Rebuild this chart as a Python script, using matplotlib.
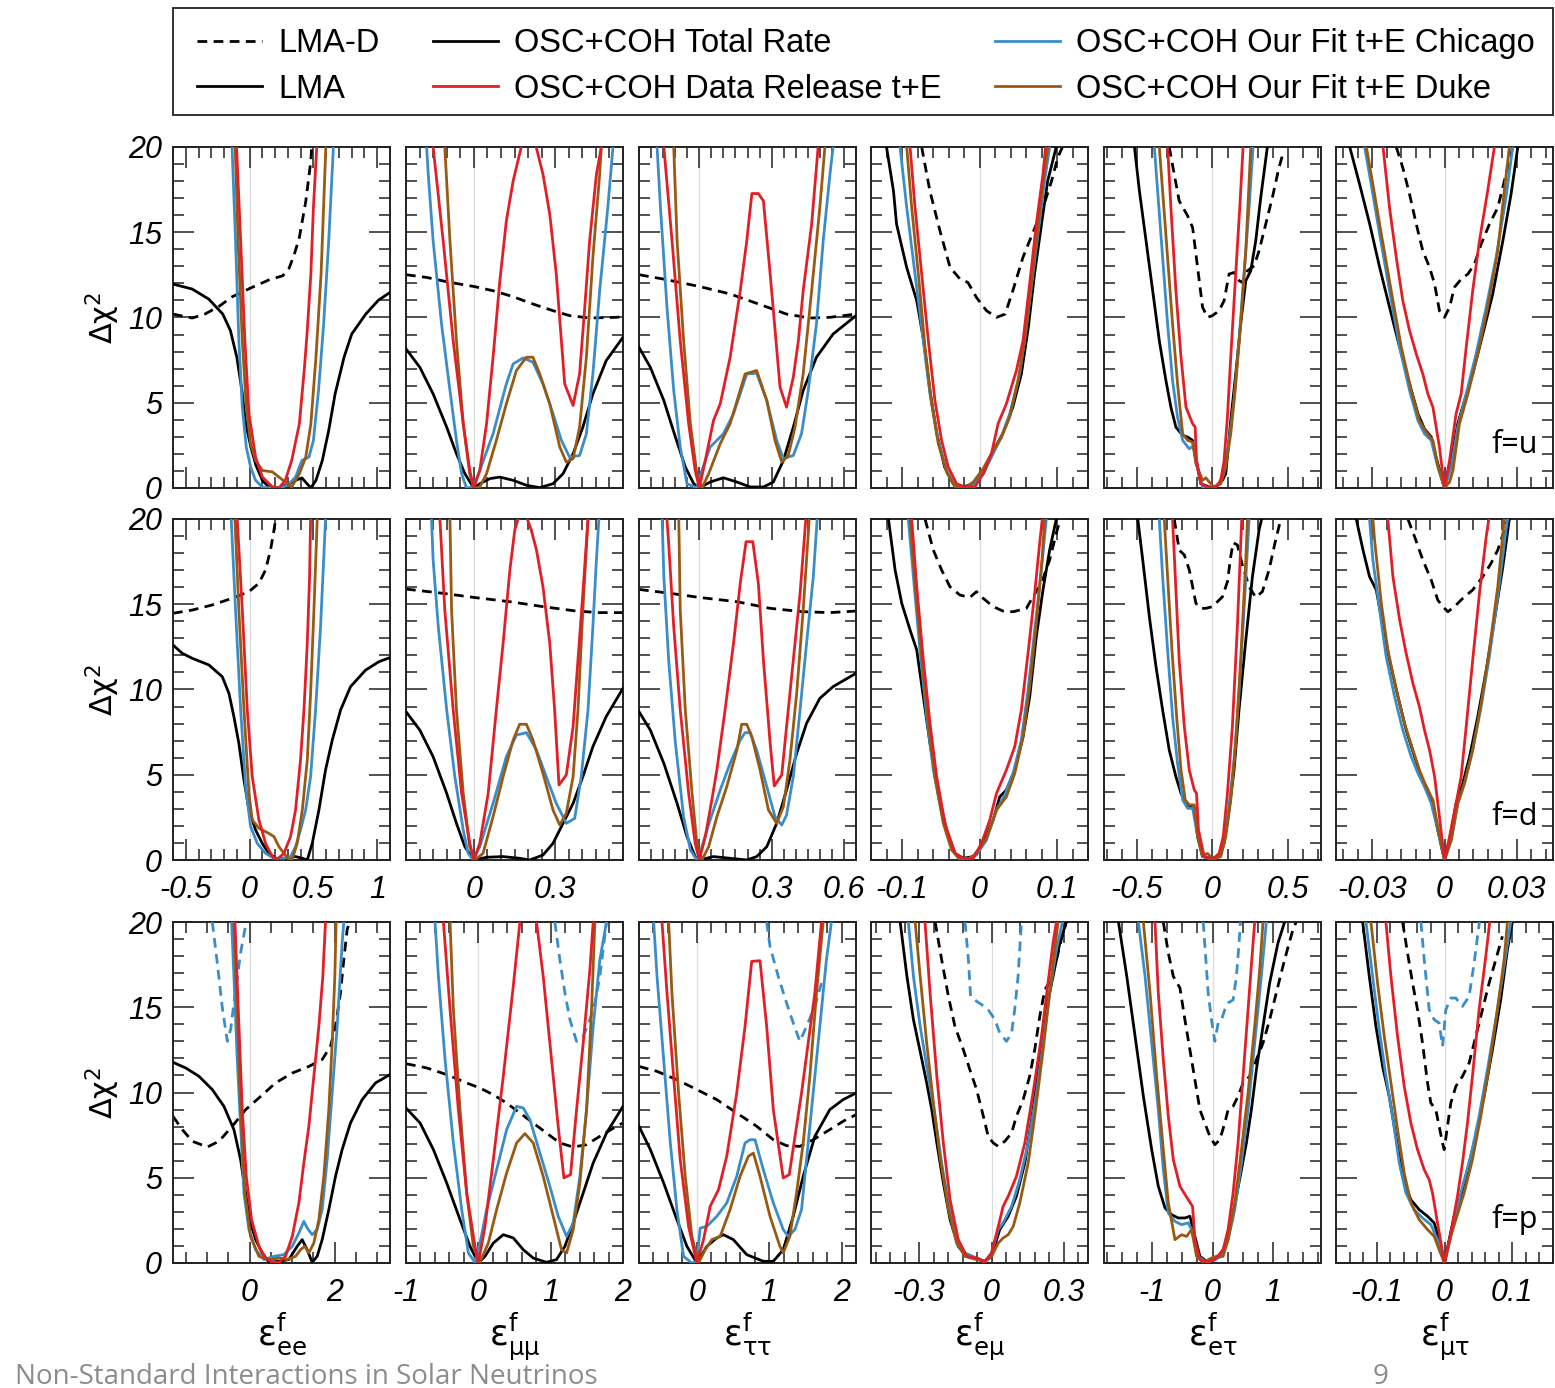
import matplotlib
matplotlib.use("Agg")
import matplotlib.pyplot as plt
from matplotlib.lines import Line2D
from matplotlib.patches import Rectangle
from matplotlib.ticker import MultipleLocator, FuncFormatter

# ---------------- data: (x, delta chi^2) ----------------
# row f=u
u_ee_lmad = ([-0.6, -0.45, -0.35, -0.24, -0.14, 0.02, 0.15, 0.26, 0.31, 0.35, 0.39, 0.44, 0.48, 0.49],
             [10.2, 9.97, 10.2, 10.65, 11.2, 11.77, 12.2, 12.45, 12.9, 13.7, 14.7, 16.8, 19.2, 20.5])
u_ee_lma = ([-0.6, -0.45, -0.32, -0.21, -0.15, -0.1, -0.06, -0.03, 0.01, 0.05, 0.1, 0.15, 0.23, 0.31, 0.36, 0.41, 0.45,
             0.48, 0.52, 0.57, 0.62, 0.67, 0.74, 0.8, 0.91, 1.01, 1.1],
            [11.96, 11.67, 11.08, 10.2, 9.23, 7.67, 5.72, 3.77, 2.4, 1.33, 0.45, 0.06, 0.02, 0.25, 0.45, 0.59, 0.25,
             0.0, 0.45, 1.62, 3.38, 5.52, 7.67, 9.03, 10.2, 11.02, 11.47])
u_ee_blue = ([-0.14, -0.11, -0.084, -0.057, -0.026, 0.008, 0.047, 0.1, 0.18, 0.26, 0.31, 0.36, 0.41, 0.465, 0.5, 0.54, 0.58, 0.62, 0.66],
             [20.5, 14.5, 8.64, 4.74, 2.4, 1.23, 0.45, 0.05, 0, 0.05, 0.25, 0.64, 1.62, 1.81, 2.79, 5.72, 9.6, 14.5, 20.5])
u_ee_red = ([-0.105, -0.07, -0.037, -0.005, 0.047, 0.1, 0.18, 0.23, 0.28, 0.33, 0.39, 0.43, 0.45, 0.48, 0.5, 0.53],
            [20.5, 14.5, 8.64, 4.35, 1.81, 0.64, 0.06, 0, 0.45, 1.62, 3.77, 7.08, 9.03, 12.55, 16.45, 20.5])
u_ee_brown = ([-0.115, -0.09, -0.057, -0.026, 0.008, 0.047, 0.1, 0.18, 0.23, 0.28, 0.33, 0.39, 0.44, 0.48, 0.52, 0.56, 0.6],
              [20.5, 14.5, 8.64, 4.74, 2.6, 1.62, 1.03, 0.94, 0.64, 0.35, 0.06, 0.84, 1.81, 3.77, 7.67, 12.55, 20.5])

u_mm_lmad = ([-0.25, -0.174, -0.088, 0, 0.071, 0.145, 0.218, 0.292, 0.353, 0.427, 0.525, 0.55],
             [12.51, 12.35, 12.06, 11.82, 11.57, 11.22, 10.79, 10.4, 10.11, 9.97, 10.01, 10.05])
u_mm_lma = ([-0.25, -0.199, -0.15, -0.1, -0.064, -0.033, 0, 0.022, 0.059, 0.096, 0.145, 0.194, 0.243, 0.292, 0.329, 0.366, 0.402, 0.439, 0.488, 0.55],
            [8.16, 7.08, 5.52, 3.57, 2.01, 0.84, 0, 0.25, 0.55, 0.64, 0.45, 0.16, 0.02, 0.25, 0.84, 2.01, 3.57, 5.52, 7.47, 8.84])
u_mm_blue = ([-0.174, -0.168, -0.15, -0.119, -0.088, -0.064, -0.045, -0.027, -0.002, 0.022, 0.071, 0.12, 0.145, 0.182, 0.218,
              0.255, 0.292, 0.323, 0.353, 0.39, 0.415, 0.439, 0.464, 0.494, 0.513],
             [20.0, 18.4, 14.5, 9.62, 5.72, 2.79, 0.84, 0, 0.06, 1.03, 3.18, 6.11, 7.28, 7.63, 7.38,
              6.11, 4.35, 2.79, 1.81, 1.91, 3.18, 6.69, 11.57, 16.45, 20.0])
u_mm_red = ([-0.15, -0.113, -0.076, -0.039, -0.015, 0, 0.022, 0.047, 0.071, 0.096, 0.12, 0.145, 0.175, 0.2, 0.23, 0.255,
             0.28, 0.304, 0.335, 0.366, 0.39, 0.409, 0.427, 0.452, 0.47],
            [20.0, 14.5, 8.64, 3.77, 1.03, 0, 1.03, 3.77, 7.67, 12.16, 15.67, 18.01, 20.0, 21.5, 20.0, 18.4,
             16.06, 12.55, 6.11, 4.84, 6.69, 10.6, 14.5, 18.4, 20.0])
u_mm_brown = ([-0.107, -0.088, -0.064, -0.039, -0.015, 0, 0.022, 0.047, 0.083, 0.12, 0.157, 0.194, 0.218, 0.243, 0.28, 0.317,
               0.341, 0.366, 0.39, 0.415, 0.439, 0.464, 0.47],
              [20.0, 14.5, 8.64, 3.77, 0.84, 0, 0.06, 0.84, 2.79, 4.94, 6.89, 7.67, 7.67, 6.69, 4.94, 2.4,
               1.52, 1.72, 3.57, 7.67, 13.52, 18.4, 20.0])

u_tt_lmad = ([-0.25, -0.147, 0, 0.128, 0.266, 0.362, 0.459, 0.542, 0.65],
             [12.51, 12.25, 11.82, 11.38, 10.69, 10.2, 9.97, 10.01, 10.2])
u_tt_lma = ([-0.25, -0.203, -0.147, -0.099, -0.058, -0.023, 0, 0.045, 0.1, 0.156, 0.211, 0.266, 0.307, 0.349, 0.39, 0.431, 0.486, 0.555, 0.65],
            [8.25, 7.08, 5.13, 2.99, 1.23, 0.25, 0, 0.35, 0.6, 0.35, 0.06, 0.06, 0.35, 1.62, 3.57, 5.72, 7.67, 9.03, 10.11])
u_tt_blue = ([-0.175, -0.161, -0.134, -0.106, -0.079, -0.051, -0.01, 0.011, 0.045, 0.1, 0.142, 0.197, 0.238, 0.28, 0.321,
              0.349, 0.39, 0.424, 0.452, 0.486, 0.514, 0.542, 0.555],
             [20.0, 16.45, 10.6, 5.72, 2.4, 0.25, 0, 1.03, 2.4, 3.18, 4.35, 6.69, 6.73, 5.13, 2.79,
              1.72, 1.91, 3.18, 5.72, 9.62, 14.5, 18.4, 20.0])
u_tt_red = ([-0.147, -0.113, -0.079, -0.044, -0.017, 0, 0.025, 0.059, 0.087, 0.128, 0.17, 0.197, 0.218, 0.245, 0.266, 0.294,
             0.335, 0.362, 0.39, 0.411, 0.431, 0.466, 0.493],
            [20.0, 14.5, 8.64, 3.77, 1.03, 0, 1.62, 3.96, 4.94, 7.67, 11.57, 14.5, 17.27, 17.27, 16.84, 12.55,
             5.91, 4.74, 6.5, 8.64, 11.57, 15.47, 20.0])
u_tt_brown = ([-0.106, -0.092, -0.065, -0.037, -0.01, 0.011, 0.039, 0.087, 0.128, 0.19, 0.238, 0.28, 0.314, 0.342, 0.369,
               0.397, 0.431, 0.466, 0.5, 0.521],
              [20.0, 14.5, 8.64, 3.77, 0.84, 0, 0.84, 2.6, 3.77, 6.69, 6.89, 5.13, 2.79, 1.52, 1.91,
               3.57, 6.69, 11.57, 16.45, 20.0])

u_em_lmad = ([-0.0746, -0.064, -0.051, -0.038, -0.025, -0.015, -0.004, 0.009, 0.022, 0.033, 0.043, 0.056, 0.069, 0.082, 0.093, 0.101, 0.107],
             [20.0, 17.42, 15.08, 12.94, 12.25, 12.06, 11.18, 10.4, 10.01, 10.2, 11.57, 13.52, 14.99, 16.45, 18.01, 19.38, 20.0])
u_em_lma = ([-0.12, -0.111, -0.107, -0.094, -0.081, -0.072, -0.064, -0.055, -0.045, -0.034, -0.021, -0.008, 0.005, 0.018,
             0.03, 0.043, 0.054, 0.063, 0.071, 0.08, 0.088, 0.099],
            [20.0, 17.42, 15.47, 12.94, 10.99, 8.64, 5.72, 3.18, 1.23, 0.25, 0.06, 0.25, 0.84, 2.2,
             3.18, 4.74, 6.69, 9.42, 12.55, 15.47, 18.01, 20.0])
u_em_blue = ([-0.1025, -0.0939, -0.0832, -0.0725, -0.0639, -0.0532, -0.0425, -0.0317, -0.021, -0.0081, 0.0047, 0.0176,
              0.0283, 0.039, 0.0519, 0.0605, 0.069, 0.0776, 0.084, 0.0905],
             [20.0, 16.45, 12.55, 8.64, 5.52, 2.79, 1.03, 0.16, 0, 0.16, 0.84, 2.01,
              2.99, 4.35, 6.69, 9.42, 12.55, 15.67, 18.01, 20.0])
u_em_red = ([-0.0896, -0.0832, -0.0746, -0.066, -0.0575, -0.0489, -0.0403, -0.0296, -0.0189, -0.006, 0.0047, 0.0154,
             0.024, 0.0347, 0.0476, 0.0562, 0.0647, 0.0733, 0.0819, 0.0853],
            [20.0, 16.45, 12.55, 8.64, 5.13, 2.79, 1.23, 0.25, 0.06, 0.06, 0.84, 2.01,
             3.77, 4.94, 6.89, 8.64, 11.96, 15.47, 18.4, 20.0])
u_em_brown = ([-0.0939, -0.0875, -0.0789, -0.0703, -0.0617, -0.0532, -0.0425, -0.0317, -0.0189, -0.0081, 0.0047, 0.0176,
               0.0283, 0.039, 0.0497, 0.0583, 0.0669, 0.0755, 0.0819, 0.0883],
              [20.0, 16.45, 12.55, 8.25, 4.94, 2.6, 0.94, 0.06, 0, 0.35, 1.13, 2.2,
               2.99, 4.16, 6.3, 8.64, 11.96, 15.28, 18.01, 20.0])

u_et_lmad = ([-0.287, -0.254, -0.221, -0.165, -0.132, -0.099, -0.066, -0.033, 0, 0.044, 0.077, 0.11, 0.143, 0.176, 0.198,
              0.232, 0.276, 0.309, 0.353, 0.397, 0.441, 0.463],
             [20.0, 18.4, 16.84, 15.96, 15.28, 12.94, 10.6, 10.01, 10.11, 10.4, 10.99, 12.55, 12.64, 12.16, 12.06,
              12.74, 13.03, 13.91, 15.47, 17.03, 18.79, 19.47])
u_et_lma = ([-0.518, -0.485, -0.441, -0.397, -0.353, -0.309, -0.276, -0.243, -0.198, -0.165, -0.132, -0.11, -0.077, -0.022,
             0.022, 0.066, 0.088, 0.121, 0.154, 0.187, 0.221, 0.254, 0.287, 0.32, 0.364],
            [20.0, 17.42, 14.5, 11.57, 8.64, 6.3, 4.74, 3.57, 3.08, 2.99, 2.79, 1.62, 0.25, 0.06,
             0.06, 0.45, 0.84, 3.96, 6.69, 9.62, 12.16, 12.74, 14.5, 17.03, 20.0])
u_et_blue = ([-0.386, -0.364, -0.331, -0.298, -0.265, -0.232, -0.198, -0.154, -0.121, -0.099, -0.066, 0, 0.044, 0.077,
              0.11, 0.143, 0.176, 0.209, 0.243, 0.269],
             [20.0, 17.42, 13.52, 9.62, 6.3, 4.16, 2.79, 2.3, 2.5, 1.23, 0.06, 0, 0.25, 1.03,
              2.79, 5.13, 8.64, 12.55, 16.45, 20.0])
u_et_red = ([-0.298, -0.276, -0.243, -0.209, -0.176, -0.132, -0.115, -0.106, -0.077, -0.022, 0.022, 0.055, 0.077, 0.099,
             0.121, 0.154, 0.181, 0.203],
            [20.0, 16.45, 11.57, 7.67, 4.74, 3.77, 3.57, 1.62, 0.25, 0, 0.06, 0.45, 1.62, 4.16,
             7.67, 12.55, 16.45, 20.0])
u_et_brown = ([-0.353, -0.331, -0.298, -0.265, -0.232, -0.198, -0.165, -0.132, -0.11, -0.066, -0.044, -0.022, 0.011, 0.055,
               0.088, 0.121, 0.154, 0.187, 0.221, 0.254],
              [20.0, 17.42, 13.52, 9.62, 6.11, 3.18, 2.79, 2.69, 1.42, 0.45, 0.6, 0.35, 0.06, 0.25,
               1.23, 3.18, 6.11, 9.62, 13.91, 20.0])

u_mt_lmad = ([-0.02, -0.0173, -0.0145, -0.0117, -0.009, -0.0062, -0.0041, -0.0021, 0, 0.0021, 0.0041, 0.0069, 0.0097,
              0.0124, 0.0152, 0.0186, 0.0221, 0.0283],
             [20.0, 18.79, 17.23, 15.47, 13.91, 12.94, 11.96, 10.4, 10.01, 10.6, 11.77, 12.25, 12.55,
              13.13, 14.3, 15.47, 16.45, 20.0])
u_mt_lma = ([-0.0393, -0.0352, -0.031, -0.0269, -0.0228, -0.0186, -0.0145, -0.011, -0.0083, -0.0055, -0.0035, 0, 0.0028,
             0.0055, 0.0083, 0.0117, 0.0159, 0.02, 0.0242, 0.0276, 0.0304],
            [20.0, 17.81, 15.47, 12.94, 10.6, 8.25, 6.11, 4.35, 3.47, 2.99, 1.81, 0, 1.62,
             3.77, 5.13, 6.69, 9.03, 11.38, 14.5, 17.23, 20.0])
u_mt_blue = ([-0.0331, -0.0304, -0.0269, -0.0228, -0.0186, -0.0145, -0.011, -0.0083, -0.0055, -0.0028, 0, 0.0028, 0.0055,
              0.009, 0.0131, 0.0173, 0.0214, 0.0255, 0.0283],
             [20.0, 17.81, 14.89, 11.57, 8.25, 5.72, 3.96, 3.18, 2.79, 1.23, 0, 1.23, 3.57,
              5.52, 7.86, 10.6, 13.52, 17.03, 20.0])
u_mt_red = ([-0.0255, -0.0228, -0.02, -0.0173, -0.0145, -0.0117, -0.009, -0.0069, -0.0048, -0.0021, 0, 0.0021, 0.0048,
             0.0069, 0.009, 0.0117, 0.0145, 0.0179, 0.0207],
            [20.0, 16.45, 13.52, 10.99, 9.23, 7.86, 6.69, 5.52, 4.74, 2.4, 0, 1.62, 4.35,
             5.52, 8.25, 11.57, 14.5, 17.42, 20.0])
u_mt_brown = ([-0.0324, -0.0297, -0.0262, -0.0221, -0.0179, -0.0138, -0.0104, -0.0076, -0.0048, -0.0028, 0, 0.0021, 0.0035,
               0.0062, 0.0097, 0.0138, 0.0179, 0.0221, 0.0248, 0.0269],
              [20.0, 17.81, 14.89, 11.57, 8.25, 5.72, 3.96, 3.28, 2.79, 1.33, 0, 0.35, 1.03,
               3.77, 5.52, 7.86, 10.6, 13.91, 17.42, 20.0])

# row f=d
d_ee_lmad = ([-0.6, -0.449, -0.292, -0.136, -0.005, 0.073, 0.125, 0.164, 0.191, 0.204],
             [14.47, 14.66, 14.96, 15.35, 15.74, 16.23, 17.01, 18.18, 19.35, 20.0])
d_ee_lma = ([-0.6, -0.527, -0.449, -0.319, -0.214, -0.162, -0.123, -0.084, -0.044, -0.005, 0.047, 0.099, 0.151, 0.204,
             0.282, 0.36, 0.413, 0.452, 0.491, 0.543, 0.595, 0.648, 0.713, 0.791, 0.909, 1.013, 1.1],
            [12.61, 12.12, 11.83, 11.44, 10.75, 9.78, 8.41, 6.84, 4.69, 2.93, 1.76, 0.98, 0.39, 0.1,
             0.1, 0.2, 0.1, 0, 0.98, 2.93, 5.28, 7.04, 8.8, 10.17, 11.14, 11.63, 11.87])
d_ee_blue = ([-0.144, -0.11, -0.07, -0.031, 0.008, 0.06, 0.125, 0.191, 0.269, 0.321, 0.36, 0.399, 0.439, 0.478, 0.517, 0.556, 0.595],
             [20.0, 14.66, 8.8, 4.3, 1.96, 0.98, 0.39, 0.1, 0.1, 0.2, 0.78, 1.76, 2.93, 4.89, 8.8, 13.69, 20.0])
d_ee_red = ([-0.097, -0.057, -0.018, 0.021, 0.073, 0.125, 0.178, 0.217, 0.269, 0.321, 0.36, 0.399, 0.426, 0.452, 0.47, 0.478],
            [20.0, 14.66, 8.8, 4.89, 2.35, 0.98, 0.2, 0.04, 0.39, 1.37, 2.93, 5.87, 8.8, 12.71, 16.62, 20.0])
d_ee_brown = ([-0.115, -0.084, -0.044, -0.005, 0.021, 0.073, 0.151, 0.191, 0.23, 0.269, 0.308, 0.334, 0.373, 0.413, 0.452,
               0.478, 0.504, 0.53],
              [20.0, 14.66, 8.8, 3.91, 2.35, 1.86, 1.56, 1.37, 0.78, 0.39, 0.04, 0.04, 0.98, 2.93, 5.87,
               9.78, 14.66, 20.0])

d_mm_lmad = ([-0.25, -0.113, 0, 0.133, 0.255, 0.378, 0.464, 0.55],
             [15.89, 15.64, 15.4, 15.15, 14.86, 14.6, 14.51, 14.51])
d_mm_lma = ([-0.25, -0.199, -0.15, -0.1, -0.064, -0.033, 0, 0.047, 0.108, 0.169, 0.206, 0.255, 0.292, 0.329, 0.366, 0.402, 0.439, 0.488, 0.55],
            [8.7, 7.62, 6.06, 3.91, 2.15, 0.78, 0, 0.16, 0.2, 0.1, 0, 0.29, 0.98, 2.15, 3.32, 4.89, 6.65, 8.41, 10.07])
d_mm_blue = ([-0.156, -0.15, -0.131, -0.1, -0.07, -0.039, -0.021, -0.002, 0.022, 0.071, 0.12, 0.157, 0.194, 0.231, 0.267,
              0.304, 0.341, 0.372, 0.396, 0.421, 0.439, 0.452, 0.461],
             [20.0, 17.6, 13.69, 8.8, 4.89, 1.76, 0.39, 0, 0.78, 3.32, 6.06, 7.33, 7.47, 6.45, 4.89,
              3.32, 2.15, 2.44, 4.89, 8.8, 13.69, 17.6, 20.0])
d_mm_red = ([-0.125, -0.107, -0.076, -0.045, -0.015, 0, 0.022, 0.053, 0.083, 0.108, 0.133, 0.151, 0.163, 0.188, 0.212,
             0.231, 0.255, 0.28, 0.298, 0.314, 0.341, 0.366, 0.384, 0.402, 0.421],
            [20.0, 14.66, 8.8, 3.91, 0.98, 0, 0.98, 3.91, 8.8, 12.71, 17.01, 19.35, 20.0, 20.4, 19.35,
             18.18, 16.03, 12.71, 8.8, 4.4, 4.99, 7.82, 11.73, 15.64, 20.0])
d_mm_brown = ([-0.088, -0.082, -0.064, -0.039, -0.015, 0.004, 0.034, 0.071, 0.108, 0.145, 0.169, 0.194, 0.218, 0.255, 0.292,
               0.317, 0.341, 0.366, 0.384, 0.402, 0.421],
              [20.0, 14.66, 8.8, 3.91, 0.78, 0, 0.39, 2.54, 4.89, 7.04, 7.96, 7.96, 7.04, 5.08, 2.93,
               2.05, 2.74, 4.89, 8.8, 14.66, 20.0])

d_tt_lmad = ([-0.25, -0.12, 0, 0.156, 0.294, 0.431, 0.542, 0.65],
             [15.87, 15.64, 15.4, 15.15, 14.76, 14.56, 14.51, 14.6])
d_tt_lma = ([-0.25, -0.203, -0.147, -0.092, -0.051, -0.017, 0, 0.059, 0.128, 0.197, 0.238, 0.28, 0.321, 0.362, 0.404, 0.445, 0.5, 0.555, 0.65],
            [8.7, 7.62, 5.67, 3.32, 1.37, 0.2, 0, 0.2, 0.1, 0, 0.2, 0.78, 2.15, 4.11, 6.26, 8.02, 9.48, 10.17, 10.95])
d_tt_blue = ([-0.154, -0.147, -0.127, -0.099, -0.065, -0.037, -0.01, 0.011, 0.045, 0.087, 0.128, 0.17, 0.19, 0.211, 0.238,
              0.28, 0.314, 0.342, 0.362, 0.39, 0.418, 0.445, 0.473, 0.489],
             [20.0, 16.62, 11.73, 6.84, 2.54, 0.59, 0, 0.78, 2.35, 4.11, 5.67, 7.04, 7.47, 7.47, 6.45,
              4.3, 2.54, 2.05, 2.64, 4.89, 8.8, 12.71, 16.62, 20.0])
d_tt_red = ([-0.134, -0.127, -0.106, -0.079, -0.044, -0.017, 0, 0.025, 0.052, 0.073, 0.107, 0.142, 0.17, 0.194, 0.222,
             0.245, 0.266, 0.294, 0.311, 0.342, 0.362, 0.39, 0.418, 0.442],
            [20.0, 18.57, 13.69, 8.8, 3.91, 0.98, 0, 1.37, 3.52, 5.28, 8.8, 12.71, 16.23, 18.67, 18.67,
             16.23, 11.73, 6.84, 4.34, 4.99, 7.82, 11.73, 15.64, 20.0])
d_tt_brown = ([-0.085, -0.079, -0.058, -0.03, -0.01, 0.011, 0.039, 0.073, 0.114, 0.156, 0.176, 0.197, 0.218, 0.252, 0.287,
               0.321, 0.349, 0.376, 0.404, 0.431, 0.456],
              [20.0, 14.66, 8.8, 3.91, 0.98, 0, 0.78, 2.54, 4.3, 6.45, 7.96, 7.96, 7.23, 5.28, 2.93,
               2.15, 3.13, 5.87, 9.78, 14.66, 20.0])

d_em_lmad = ([-0.0703, -0.0596, -0.0489, -0.0382, -0.0253, -0.0124, -0.0039, 0.0047, 0.0176, 0.0304, 0.0433, 0.0605,
              0.069, 0.0798, 0.0905, 0.0991, 0.1042],
             [20.0, 18.18, 17.01, 16.03, 15.54, 15.4, 15.74, 15.35, 14.86, 14.6, 14.56, 14.76,
              15.44, 16.23, 17.6, 19.16, 20.0])
d_em_lma = ([-0.1175, -0.1089, -0.1003, -0.0896, -0.081, -0.0725, -0.0639, -0.0532, -0.0425, -0.0317, -0.021, -0.0081,
             0.0047, 0.0176, 0.0262, 0.0347, 0.0455, 0.0562, 0.0648, 0.0733, 0.0819, 0.0905, 0.0991],
            [20.0, 17.01, 15.05, 13.49, 12.32, 9.58, 6.84, 3.91, 1.76, 0.39, 0.1, 0.2,
             0.98, 2.35, 3.71, 4.11, 5.28, 7.23, 9.58, 13.1, 15.84, 18.18, 20.0])
d_em_blue = ([-0.0918, -0.0853, -0.0768, -0.0682, -0.0596, -0.0489, -0.0382, -0.0274, -0.0167, -0.0039, 0.009, 0.0219,
              0.0326, 0.0433, 0.054, 0.0626, 0.0712, 0.0798, 0.0862],
             [20.0, 16.62, 12.32, 8.41, 5.28, 2.74, 0.98, 0.1, 0.04, 0.29, 1.17, 2.93,
              3.81, 5.08, 7.04, 9.97, 13.49, 17.01, 20.0])
d_em_red = ([-0.0875, -0.081, -0.0725, -0.0639, -0.0553, -0.0446, -0.0317, -0.021, -0.0081, 0.0026, 0.0133, 0.0219,
             0.0347, 0.0455, 0.054, 0.0626, 0.0712, 0.0776, 0.081],
            [20.0, 16.03, 11.73, 8.02, 4.89, 2.15, 0.39, 0.1, 0.1, 0.98, 2.35, 3.91,
             5.28, 6.65, 8.8, 12.12, 15.64, 18.57, 20.0])
d_em_brown = ([-0.0896, -0.0832, -0.0746, -0.066, -0.0575, -0.0467, -0.036, -0.0253, -0.0146, -0.0039, 0.009, 0.0219,
               0.0347, 0.0455, 0.0562, 0.0648, 0.0733, 0.081, 0.084],
              [20.0, 16.23, 11.93, 8.02, 4.89, 2.15, 0.59, 0.04, 0.04, 0.39, 1.27, 2.93,
               3.71, 5.08, 7.23, 10.17, 13.88, 17.79, 20.0])

d_et_lmad = ([-0.254, -0.221, -0.187, -0.154, -0.11, -0.077, -0.044, 0, 0.066, 0.099, 0.121, 0.137, 0.165, 0.198, 0.243,
              0.287, 0.331, 0.375, 0.419, 0.452],
             [20.0, 18.18, 17.89, 17.01, 15.05, 14.76, 14.76, 14.86, 15.44, 16.32, 17.79, 18.61, 18.48, 17.3, 16.03,
              15.4, 15.74, 17.01, 18.77, 19.94])
d_et_lma = ([-0.496, -0.463, -0.419, -0.375, -0.331, -0.287, -0.243, -0.209, -0.176, -0.143, -0.121, -0.099, -0.066, 0,
             0.044, 0.077, 0.11, 0.143, 0.176, 0.221, 0.265, 0.309, 0.326],
            [20.0, 17.6, 14.27, 11.34, 8.8, 6.45, 4.89, 3.91, 3.32, 3.13, 2.93, 1.37, 0.2, 0.1,
             0.2, 0.98, 2.93, 5.28, 8.8, 12.9, 16.62, 19.35, 20.0])
d_et_blue = ([-0.353, -0.331, -0.298, -0.265, -0.232, -0.198, -0.165, -0.132, -0.106, -0.066, 0, 0.044, 0.077, 0.11,
              0.143, 0.176, 0.209, 0.243],
             [20.0, 16.62, 12.32, 8.41, 5.67, 3.52, 3.03, 3.03, 1.76, 0.2, 0.04, 0.2, 1.17, 3.13,
              5.87, 9.78, 14.66, 20.0])
d_et_red = ([-0.265, -0.247, -0.221, -0.187, -0.154, -0.121, -0.106, -0.093, -0.055, 0, 0.044, 0.071, 0.099, 0.132,
             0.165, 0.194],
            [20.0, 16.62, 11.73, 7.82, 5.28, 4.11, 3.91, 1.76, 0.2, 0.04, 0.39, 1.37, 3.91, 7.82,
             13.69, 20.0])
d_et_brown = ([-0.32, -0.298, -0.269, -0.238, -0.209, -0.181, -0.154, -0.121, -0.099, -0.066, -0.033, 0, 0.055, 0.088,
               0.121, 0.154, 0.187, 0.221, 0.232],
              [20.0, 16.62, 12.32, 8.41, 5.28, 3.52, 3.23, 3.23, 1.37, 0.2, 0.39, 0.04, 0.2, 1.37,
               3.52, 6.84, 11.73, 17.6, 20.0])

d_mt_lmad = ([-0.0152, -0.0124, -0.009, -0.0055, -0.0028, -0.0007, 0.0014, 0.0041, 0.0076, 0.0117, 0.0159, 0.0193,
              0.0221, 0.0248, 0.0262],
             [20.0, 18.96, 17.6, 16.42, 15.25, 14.86, 14.56, 14.86, 15.35, 15.84, 16.62, 17.4,
              18.18, 19.35, 20.0])
d_mt_lma = ([-0.0366, -0.0338, -0.0311, -0.0283, -0.0255, -0.0228, -0.0193, -0.0159, -0.0124, -0.0097, -0.0069, -0.0048,
             -0.0028, 0, 0.0021, 0.0048, 0.0076, 0.0104, 0.0138, 0.0173, 0.0207, 0.0242, 0.0269],
            [20.0, 18.18, 16.62, 15.84, 13.69, 11.73, 9.58, 7.62, 6.06, 4.89, 4.11, 3.32,
             1.76, 0, 1.17, 3.32, 4.5, 6.06, 8.41, 11.14, 14.08, 17.2, 20.0])
d_mt_blue = ([-0.0311, -0.0297, -0.0269, -0.0242, -0.0207, -0.0173, -0.0138, -0.011, -0.0083, -0.0055, -0.0028, 0,
              0.0028, 0.0055, 0.0083, 0.0117, 0.0152, 0.0186, 0.0221, 0.0255, 0.0262],
             [20.0, 17.6, 14.66, 11.93, 9.58, 7.62, 6.06, 5.08, 4.3, 3.32, 1.76, 0,
              1.17, 3.32, 4.5, 6.45, 8.99, 11.93, 15.44, 19.35, 20.0])
d_mt_red = ([-0.0235, -0.0214, -0.0186, -0.0159, -0.0131, -0.0104, -0.0083, -0.0062, -0.0041, -0.0021, 0, 0.0021,
             0.0048, 0.0069, 0.009, 0.0117, 0.0145, 0.0173, 0.0184],
            [20.0, 16.62, 14.08, 12.12, 10.36, 8.99, 7.62, 6.45, 4.89, 2.54, 0, 1.37,
             3.32, 4.89, 7.82, 11.73, 15.64, 18.96, 20.0])
d_mt_brown = ([-0.0297, -0.029, -0.0262, -0.0235, -0.02, -0.0166, -0.0131, -0.0104, -0.0076, -0.0048, -0.0028, 0,
               0.0028, 0.0055, 0.0083, 0.0117, 0.0152, 0.0186, 0.0221, 0.0248],
              [20.0, 18.77, 15.05, 12.32, 9.97, 8.02, 6.45, 5.28, 4.3, 3.52, 1.96, 0,
               1.17, 3.32, 4.5, 6.45, 9.19, 12.32, 16.03, 20.0])

# row f=p
p_ee_lmad = ([-1.8, -1.58, -1.346, -0.994, -0.72, -0.407, -0.094, 0.219, 0.61, 1.002, 1.393, 1.706, 1.901, 2.019, 2.136,
              2.214, 2.293, 2.347],
             [8.6, 7.82, 7.14, 6.8, 7.14, 8.02, 8.99, 9.68, 10.56, 11.14, 11.53, 11.93, 12.71, 13.88, 15.84,
              17.79, 19.55, 20.0])
p_ee_lma = ([-1.8, -1.502, -1.189, -0.876, -0.603, -0.368, -0.211, -0.094, 0, 0.141, 0.297, 0.454, 0.689, 0.923, 1.119,
             1.236, 1.354, 1.471, 1.588, 1.706, 1.862, 2.019, 2.175, 2.371, 2.645, 2.958, 3.3],
            [11.77, 11.44, 10.95, 10.17, 9.19, 7.82, 6.06, 4.11, 2.54, 1.37, 0.59, 0.04, 0.1, 0.2, 0.98,
             1.37, 0.78, 0.04, 0.39, 1.37, 3.13, 5.08, 6.65, 8.21, 9.58, 10.56, 11.05])
p_ee_blue = ([-0.423, -0.368, -0.29, -0.211, -0.133, -0.016, 0.141, 0.336, 0.571, 0.806, 1.002, 1.158, 1.275, 1.354,
              1.471, 1.588, 1.706, 1.823, 1.941, 2.058, 2.175, 2.214],
             [20.0, 16.81, 11.93, 8.02, 4.11, 1.96, 0.78, 0.2, 0.39, 0.49, 0.98, 1.76, 2.44, 2.05,
              1.66, 1.96, 3.13, 6.06, 9.97, 13.88, 18.77, 20.0])
p_ee_blued = ([-0.876, -0.759, -0.642, -0.524, -0.446, -0.329, -0.211, -0.078],
              [20.0, 17.6, 15.0, 13.0, 13.7, 16.0, 18.2, 20.0])
p_ee_red = ([-0.344, -0.266, -0.172, -0.078, 0.047, 0.219, 0.376, 0.532, 0.689, 0.845, 1.002, 1.158, 1.275, 1.393, 1.51,
             1.628, 1.721, 1.784],
            [20.0, 14.86, 8.99, 5.08, 2.54, 0.98, 0.29, 0.04, 0.04, 0.39, 1.56, 3.52, 5.87, 8.02, 10.95,
             13.88, 16.81, 20.0])
p_ee_brown = ([-0.368, -0.29, -0.211, -0.11, 0.023, 0.219, 0.454, 0.689, 0.884, 1.08, 1.197, 1.299, 1.393, 1.51, 1.628,
               1.745, 1.862, 1.941, 2.003, 2.034],
              [20.0, 14.86, 8.99, 4.11, 1.56, 0.39, 0.2, 0.29, 0.2, 0.39, 0.78, 0.98, 0.59, 1.17, 2.54,
               5.08, 8.99, 12.9, 16.81, 20.0])

p_mm_lmad = ([-1.0, -0.713, -0.437, -0.161, 0.023, 0.207, 0.391, 0.575, 0.759, 0.943, 1.127, 1.312, 1.496, 1.68, 1.91, 2.0],
             [11.69, 11.44, 11.05, 10.56, 10.26, 9.87, 9.38, 8.8, 8.21, 7.62, 7.04, 6.8, 6.94, 7.43, 8.02, 8.21])
p_mm_lma = ([-1.0, -0.805, -0.621, -0.437, -0.253, -0.115, 0, 0.092, 0.207, 0.345, 0.483, 0.621, 0.759, 0.943, 1.081,
             1.197, 1.312, 1.45, 1.588, 1.772, 2.0],
            [9.09, 8.21, 6.65, 4.69, 2.54, 0.98, 0, 0.39, 1.17, 1.66, 1.47, 0.78, 0.29, 0.04, 0.2,
             0.98, 2.35, 4.11, 5.87, 7.62, 9.19])
p_mm_blue = ([-0.598, -0.552, -0.46, -0.345, -0.23, -0.138, -0.046, 0.023, 0.115, 0.253, 0.391, 0.529, 0.621, 0.713,
              0.851, 0.989, 1.104, 1.22, 1.312, 1.404, 1.496, 1.588, 1.68, 1.772],
             [20.0, 16.81, 11.93, 7.04, 3.13, 0.59, 0.04, 1.17, 3.13, 5.47, 7.82, 9.19, 9.09, 8.41,
              6.45, 4.5, 2.74, 1.56, 2.35, 5.08, 8.99, 13.88, 17.79, 20.0])
p_mm_blued = ([1.058, 1.127, 1.197, 1.266, 1.358, 1.45, 1.542, 1.611, 1.68, 1.726, 1.772],
              [20.0, 17.79, 15.84, 14.27, 13.0, 13.29, 14.27, 15.25, 16.81, 18.38, 20.0])
p_mm_red = ([-0.483, -0.391, -0.276, -0.161, -0.046, 0, 0.092, 0.207, 0.345, 0.483, 0.575, 0.69, 0.805, 0.897, 0.989,
             1.104, 1.183, 1.275, 1.358, 1.45, 1.542, 1.588],
            [20.0, 14.86, 8.99, 4.11, 0.98, 0, 2.15, 6.06, 10.95, 16.23, 20.0, 21.5, 20.0, 16.81, 12.9,
             8.02, 4.99, 5.18, 8.99, 12.9, 17.2, 20.0])
p_mm_brown = ([-0.391, -0.345, -0.253, -0.161, -0.069, 0.023, 0.138, 0.253, 0.391, 0.529, 0.644, 0.759, 0.897, 1.035,
               1.15, 1.22, 1.312, 1.404, 1.496, 1.565, 1.611],
              [20.0, 14.86, 8.99, 4.11, 0.98, 0.04, 1.17, 3.13, 5.28, 7.04, 7.59, 7.04, 5.08, 2.74,
               0.78, 0.59, 1.96, 4.69, 8.99, 14.86, 20.0])

p_tt_lmad = ([-0.8, -0.551, -0.276, 0, 0.276, 0.551, 0.827, 1.057, 1.24, 1.424, 1.608, 1.837, 2.021, 2.2],
             [11.53, 11.24, 10.75, 10.17, 9.58, 8.8, 8.02, 7.23, 6.88, 6.84, 7.23, 7.82, 8.31, 8.7])
p_tt_lma = ([-0.8, -0.643, -0.459, -0.276, -0.138, 0, 0.138, 0.276, 0.367, 0.505, 0.689, 0.919, 1.057, 1.194, 1.332, 1.47,
             1.631, 1.837, 2.021, 2.2],
            [8.02, 6.65, 4.69, 2.54, 0.98, 0, 0.98, 1.47, 1.66, 1.37, 0.49, 0.1, 0.1, 0.78, 2.74, 5.08,
             7.43, 8.99, 9.58, 9.97])
p_tt_blue = ([-0.597, -0.551, -0.459, -0.367, -0.276, -0.184, -0.069, 0, 0.046, 0.138, 0.276, 0.413, 0.551, 0.666, 0.735,
              0.804, 0.919, 1.057, 1.194, 1.263, 1.355, 1.447, 1.516, 1.608, 1.7, 1.791, 1.86],
             [20.0, 16.81, 11.93, 7.04, 3.13, 0.39, 0, 0.1, 2.05, 2.15, 2.74, 3.52, 5.08, 7.04, 7.23,
              7.23, 5.47, 3.52, 1.96, 1.56, 1.96, 3.13, 6.06, 9.97, 13.88, 17.79, 20.0])
p_tt_blued = ([0.965, 1.011, 1.125, 1.24, 1.332, 1.424, 1.516, 1.631, 1.723],
              [20.0, 18.57, 16.81, 15.25, 14.08, 13.0, 13.88, 15.05, 16.42])
p_tt_red = ([-0.482, -0.413, -0.322, -0.23, -0.115, 0, 0.092, 0.184, 0.299, 0.413, 0.551, 0.666, 0.758, 0.873, 0.965,
             1.057, 1.194, 1.277, 1.378, 1.447, 1.539, 1.631, 1.723],
            [20.0, 15.84, 10.95, 6.06, 2.15, 0, 1.37, 3.32, 4.3, 6.26, 9.97, 13.88, 17.69, 17.73, 13.88,
             8.99, 4.99, 5.18, 8.02, 9.97, 12.9, 15.84, 20.0])
p_tt_brown = ([-0.39, -0.345, -0.253, -0.161, -0.069, 0.023, 0.115, 0.207, 0.322, 0.459, 0.597, 0.712, 0.781, 0.873,
               1.011, 1.148, 1.194, 1.286, 1.378, 1.47, 1.562, 1.654, 1.746],
              [20.0, 15.84, 9.97, 5.08, 1.56, 0, 0.78, 1.37, 1.56, 3.13, 5.08, 6.26, 6.45, 5.08,
               2.74, 0.98, 0.59, 1.56, 4.11, 7.04, 10.95, 15.84, 20.0])

p_em_lmad = ([-0.234, -0.207, -0.179, -0.152, -0.117, -0.09, -0.062, -0.034, -0.014, 0.007, 0.028, 0.055, 0.083, 0.103,
              0.131, 0.158, 0.179, 0.2, 0.221, 0.248, 0.269, 0.289, 0.31],
             [20.0, 17.79, 15.64, 13.88, 12.51, 11.34, 10.17, 8.6, 7.43, 7.04, 6.84, 7.14, 7.62, 8.6,
              9.58, 10.95, 12.51, 14.47, 16.03, 16.62, 17.79, 18.96, 20.0])
p_em_lma = ([-0.379, -0.351, -0.324, -0.289, -0.269, -0.248, -0.227, -0.2, -0.172, -0.138, -0.103, -0.062, -0.028, 0,
             0.034, 0.069, 0.103, 0.138, 0.172, 0.2, 0.227, 0.255, 0.283, 0.31],
            [20.0, 16.81, 14.27, 11.93, 10.56, 8.99, 7.04, 4.69, 2.54, 0.98, 0.39, 0.29, 0.1, 0.39,
             1.96, 2.74, 3.91, 5.87, 8.99, 11.93, 14.86, 16.81, 18.77, 20.0])
p_em_blue = ([-0.345, -0.324, -0.296, -0.262, -0.234, -0.207, -0.179, -0.145, -0.11, -0.062, -0.028, 0, 0.028, 0.048,
              0.083, 0.117, 0.152, 0.186, 0.214, 0.241, 0.269, 0.294],
             [20.0, 16.81, 13.88, 10.95, 8.6, 5.87, 3.52, 1.37, 0.59, 0.29, 0.1, 0.59, 1.96, 2.35,
              3.32, 4.89, 7.04, 9.97, 12.9, 15.84, 18.38, 20.0])
p_em_blued = ([-0.11, -0.096, -0.087, -0.062, -0.041, -0.014, 0.014, 0.034, 0.062, 0.083, 0.096, 0.11, 0.124],
              [20.0, 17.79, 15.64, 15.35, 15.15, 14.86, 14.27, 13.49, 13.0, 13.49, 14.86, 16.81, 20.0])
p_em_red = ([-0.276, -0.255, -0.227, -0.2, -0.172, -0.138, -0.103, -0.062, -0.028, 0, 0.028, 0.048, 0.069, 0.103, 0.138,
             0.172, 0.207, 0.234, 0.255, 0.269],
            [20.0, 15.84, 10.95, 7.04, 3.71, 1.37, 0.39, 0.29, 0.04, 0.59, 2.15, 3.32, 3.91, 5.08, 7.04,
             9.97, 13.29, 16.42, 18.77, 20.0])
p_em_brown = ([-0.317, -0.296, -0.269, -0.241, -0.214, -0.179, -0.145, -0.11, -0.062, -0.028, 0, 0.028, 0.048, 0.069,
               0.09, 0.117, 0.152, 0.179, 0.214, 0.241, 0.262, 0.276],
              [20.0, 16.81, 12.9, 9.38, 6.26, 3.13, 1.17, 0.39, 0.2, 0.1, 0.39, 1.17, 1.47, 1.66,
               2.15, 3.52, 5.87, 8.6, 12.51, 15.84, 18.38, 20.0])

p_et_lmad = ([-0.816, -0.733, -0.65, -0.54, -0.458, -0.375, -0.292, -0.209, -0.127, -0.044, 0.039, 0.121, 0.204, 0.259,
              0.342, 0.424, 0.507, 0.617, 0.728, 0.838, 0.948, 1.058, 1.196, 1.334, 1.389],
             [20.0, 18.18, 16.81, 16.13, 14.27, 12.51, 10.75, 8.99, 8.21, 7.43, 6.94, 7.23, 8.21, 8.99,
              9.19, 9.78, 10.56, 10.95, 11.93, 12.9, 14.27, 15.84, 17.79, 19.55, 20.0])
p_et_lma = ([-1.56, -1.422, -1.284, -1.147, -1.009, -0.899, -0.788, -0.678, -0.568, -0.458, -0.375, -0.32, -0.209,
             -0.099, 0.011, 0.121, 0.232, 0.314, 0.397, 0.48, 0.562, 0.645, 0.728, 0.838, 0.948, 1.086, 1.196],
            [20.0, 16.81, 13.29, 9.78, 6.65, 4.5, 3.23, 2.83, 2.64, 2.64, 2.74, 1.96, 0.39,
             0.1, 0.2, 0.39, 1.17, 2.35, 3.91, 5.47, 7.04, 8.99, 11.34, 13.88, 16.42, 18.77, 20.0])
p_et_blue = ([-1.229, -1.119, -1.009, -0.899, -0.816, -0.733, -0.623, -0.513, -0.402, -0.347, -0.237, -0.099, 0.039,
              0.149, 0.259, 0.369, 0.48, 0.59, 0.7, 0.81, 0.893],
             [20.0, 16.81, 12.9, 8.99, 5.47, 2.93, 2.44, 2.25, 2.35, 1.96, 0.39, 0.04, 0.2,
              0.39, 1.37, 3.13, 5.87, 8.99, 12.9, 16.81, 20.0])
p_et_blued = ([-0.154, -0.11, -0.072, -0.017, 0.039, 0.094, 0.149, 0.204, 0.259, 0.342, 0.397, 0.441, 0.463],
              [20.0, 17.79, 15.84, 14.27, 13.0, 14.08, 14.27, 14.86, 15.25, 15.44, 16.81, 18.77, 20.0])
p_et_red = ([-0.954, -0.899, -0.816, -0.733, -0.65, -0.54, -0.402, -0.331, -0.292, -0.209, -0.099, 0.039, 0.176, 0.259,
             0.342, 0.424, 0.507, 0.59, 0.673, 0.7],
            [20.0, 15.84, 11.93, 8.6, 6.06, 4.5, 3.71, 3.32, 1.37, 0.2, 0.04, 0.2, 0.78, 1.96,
             4.11, 7.04, 10.95, 14.86, 18.77, 20.0])
p_et_brown = ([-1.147, -1.036, -0.926, -0.816, -0.733, -0.623, -0.513, -0.43, -0.347, -0.265, -0.154, -0.017, 0.066,
               0.176, 0.259, 0.369, 0.48, 0.59, 0.7, 0.783, 0.838],
              [20.0, 15.84, 10.95, 6.65, 3.52, 1.37, 1.66, 1.56, 1.96, 0.39, 0.04, 0.29, 0.39,
               0.39, 1.37, 3.52, 6.65, 9.97, 13.88, 17.2, 20.0])

p_mt_lmad = ([-0.0618, -0.0545, -0.0471, -0.0398, -0.0324, -0.025, -0.0201, -0.0128, -0.0079, -0.0029, -0.0005, 0.0044,
              0.0093, 0.0167, 0.0265, 0.0363, 0.0461, 0.056, 0.0658, 0.0756, 0.0854],
             [20.0, 18.18, 16.42, 14.86, 12.9, 10.56, 9.38, 8.99, 8.02, 7.04, 6.65, 8.02,
              9.38, 10.36, 10.95, 11.73, 13.29, 14.86, 16.42, 17.79, 19.16])
p_mt_lma = ([-0.1207, -0.1109, -0.1011, -0.0913, -0.0815, -0.0717, -0.0618, -0.0496, -0.0373, -0.025, -0.0152, -0.0079,
             0, 0.0069, 0.0142, 0.024, 0.0339, 0.0461, 0.0584, 0.0707, 0.0829, 0.0928, 0.1001],
            [20.0, 16.81, 13.88, 11.53, 9.78, 7.43, 5.08, 3.71, 3.13, 2.74, 2.35, 1.37,
             0, 1.37, 2.74, 3.91, 5.47, 7.43, 9.78, 12.51, 15.45, 18.38, 20.0])
p_mt_blue = ([-0.1158, -0.106, -0.0962, -0.0864, -0.0766, -0.0667, -0.0569, -0.0447, -0.0324, -0.0201, -0.0103, 0,
              0.0069, 0.0167, 0.0265, 0.0388, 0.051, 0.0633, 0.0756, 0.0879, 0.0977],
             [20.0, 16.81, 13.69, 10.95, 8.6, 5.87, 4.11, 3.13, 2.64, 2.25, 1.37, 0,
              1.17, 2.93, 4.5, 6.26, 8.6, 11.34, 14.27, 17.4, 20.0])
p_mt_blued = ([-0.0348, -0.0299, -0.0226, -0.0152, -0.0079, -0.0029, 0.002, 0.0093, 0.0167, 0.0265, 0.0363, 0.0437, 0.0515],
              [20.0, 17.79, 14.86, 14.27, 14.08, 12.71, 14.86, 15.54, 15.54, 15.05, 15.64, 17.6, 20.0])
p_mt_red = ([-0.0864, -0.079, -0.0692, -0.0594, -0.0496, -0.0398, -0.0299, -0.0226, -0.0177, -0.0103, 0, 0.0093, 0.0191,
             0.0265, 0.0339, 0.0412, 0.051, 0.0609, 0.0667],
            [20.0, 16.81, 13.29, 10.36, 8.21, 6.65, 5.47, 4.89, 4.11, 2.35, 0, 1.76, 3.91,
             5.87, 8.21, 10.95, 14.86, 17.99, 20.0])
p_mt_brown = ([-0.1085, -0.0987, -0.0888, -0.079, -0.0692, -0.0594, -0.0496, -0.0373, -0.025, -0.0152, -0.0079, 0,
               0.0093, 0.0167, 0.029, 0.0412, 0.0535, 0.0658, 0.078, 0.0879, 0.0928],
              [20.0, 16.42, 13.29, 10.56, 7.82, 5.28, 3.52, 2.54, 1.96, 1.56, 0.78, 0,
               1.56, 2.54, 4.11, 6.06, 8.6, 11.53, 14.86, 17.79, 20.0])

rows = ['u', 'd', 'p']
cols = ['ee', 'mm', 'tt', 'em', 'et', 'mt']
col_labels = [r'$\varepsilon^{\mathrm{f}}_{\mathrm{ee}}$', r'$\varepsilon^{\mathrm{f}}_{\mu\mu}$',
              r'$\varepsilon^{\mathrm{f}}_{\tau\tau}$', r'$\varepsilon^{\mathrm{f}}_{\mathrm{e}\mu}$',
              r'$\varepsilon^{\mathrm{f}}_{\mathrm{e}\tau}$', r'$\varepsilon^{\mathrm{f}}_{\mu\tau}$']
xlims_ud = [(-0.6, 1.1), (-0.25, 0.55), (-0.25, 0.65), (-0.14, 0.14), (-0.72, 0.72), (-0.045, 0.045)]
xlims_p = [(-1.8, 3.3), (-1.0, 2.0), (-0.8, 2.2), (-0.5, 0.4), (-1.8, 1.8), (-0.16, 0.16)]
major_ud = [0.5, 0.3, 0.3, 0.1, 0.5, 0.03]
minor_ud = [0.1, 0.05, 0.05, 0.02, 0.1, 0.006]
major_p = [2, 1, 1, 0.3, 1, 0.1]
minor_p = [0.5, 0.2, 0.2, 0.06, 0.25, 0.02]
legend_labels = ['LMA-D', 'LMA', 'OSC+COH Total Rate', 'OSC+COH Data Release t+E',
                 'OSC+COH Our Fit t+E Chicago', 'OSC+COH Our Fit t+E Duke']

RED = '#e21f26'
BLUE = '#3a8dc8'
BROWN = '#985a13'
LW = 2.0
DASH = (3.5, 2.3)
styles = [('lmad', dict(color='black', ls='--', dashes=DASH, zorder=2)),
          ('lma', dict(color='black', zorder=3)),
          ('blued', dict(color=BLUE, ls='--', dashes=DASH, zorder=3)),
          ('blue', dict(color=BLUE, zorder=4)),
          ('brown', dict(color=BROWN, zorder=5)),
          ('red', dict(color=RED, zorder=6))]

plt.rcParams['axes.unicode_minus'] = False
plt.rcParams['mathtext.fontset'] = 'dejavusans'
plt.rcParams['mathtext.default'] = 'rm'
plt.rcParams['font.family'] = ['Liberation Sans', 'DejaVu Sans']

W, H = 1555, 1388
fig = plt.figure(figsize=(W / 100, H / 100), dpi=100)

lefts = [173, 406, 639, 871, 1104, 1336]
tops = [147, 519, 922]
aw, ah = 217, 341

fmt = FuncFormatter(lambda v, p: '%g' % (round(v, 6) + 0.0))
g = globals()
for i, r in enumerate(rows):
    for j, c in enumerate(cols):
        ax = fig.add_axes([lefts[j] / W, 1 - (tops[i] + ah) / H, aw / W, ah / H])
        ax.axvline(0, color='#dcdcdc', lw=1, zorder=1)
        for key, st in styles:
            name = '%s_%s_%s' % (r, c, key)
            if name in g:
                xs, ys = g[name]
                ax.plot(xs, ys, lw=LW, **st)
        if r == 'p':
            ax.set_xlim(*xlims_p[j])
            ax.xaxis.set_major_locator(MultipleLocator(major_p[j]))
            ax.xaxis.set_minor_locator(MultipleLocator(minor_p[j]))
        else:
            ax.set_xlim(*xlims_ud[j])
            ax.xaxis.set_major_locator(MultipleLocator(major_ud[j]))
            ax.xaxis.set_minor_locator(MultipleLocator(minor_ud[j]))
        ax.set_ylim(0, 20)
        ax.yaxis.set_major_locator(MultipleLocator(5))
        ax.yaxis.set_minor_locator(MultipleLocator(1))
        ax.xaxis.set_major_formatter(fmt)
        ax.yaxis.set_major_formatter(fmt)
        ax.tick_params(which='both', direction='in', top=True, right=True, width=1.1, colors='#222222',
                       labelcolor='black', labelsize=22)
        ax.tick_params(which='major', length=15)
        ax.tick_params(which='minor', length=8)
        ax.tick_params(axis='x', pad=11)
        ax.tick_params(axis='y', pad=8)
        ax.tick_params(labelbottom=(r != 'u'), labelleft=(j == 0))
        for lab in ax.get_xticklabels() + ax.get_yticklabels():
            lab.set_fontstyle('italic')
        for s in ax.spines.values():
            s.set_linewidth(1.4)
            s.set_color('#222222')
        if j == 0:
            ax.set_ylabel(r'$\Delta\chi^2$', fontsize=22, labelpad=4)
        if j == 5:
            ax.text(0.93, 0.103, 'f=' + r, transform=ax.transAxes, ha='right', va='baseline',
                    fontsize=22, family='Open Sans')
        if r == 'p':
            ax.set_xlabel(col_labels[j], fontsize=25, labelpad=2)

# legend in a plain box above the panels
fig.patches.append(Rectangle((173 / W, 1 - 115 / H), 1380 / W, 107 / H, transform=fig.transFigure,
                             fill=False, ec='#222222', lw=1.3))
handles = [Line2D([], [], color='black', ls='--', dashes=DASH, lw=LW),
           Line2D([], [], color='black', lw=LW),
           Line2D([], [], color='black', lw=LW),
           Line2D([], [], color=RED, lw=LW),
           Line2D([], [], color=BLUE, lw=LW),
           Line2D([], [], color=BROWN, lw=LW)]
fig.legend(handles, legend_labels, ncol=3, mode='expand', loc='center',
           bbox_to_anchor=(197 / W, 1 - 115 / H, (1535 - 197) / W, 97 / H),
           frameon=False, borderpad=0, borderaxespad=0, handlelength=2.0, handletextpad=0.5,
           labelspacing=0.45, prop={'family': 'Liberation Sans', 'size': 23.5})

fig.text(15 / W, 1 - 1377 / H, 'Non-Standard Interactions in Solar Neutrinos', ha='left', va='center',
         color='#8c8c8c', fontsize=20, family='Open Sans')
fig.text(1381 / W, 1 - 1377 / H, '9', ha='center', va='center', color='#8c8c8c', fontsize=20, family='Open Sans')

fig.savefig('out.png', dpi=100)
